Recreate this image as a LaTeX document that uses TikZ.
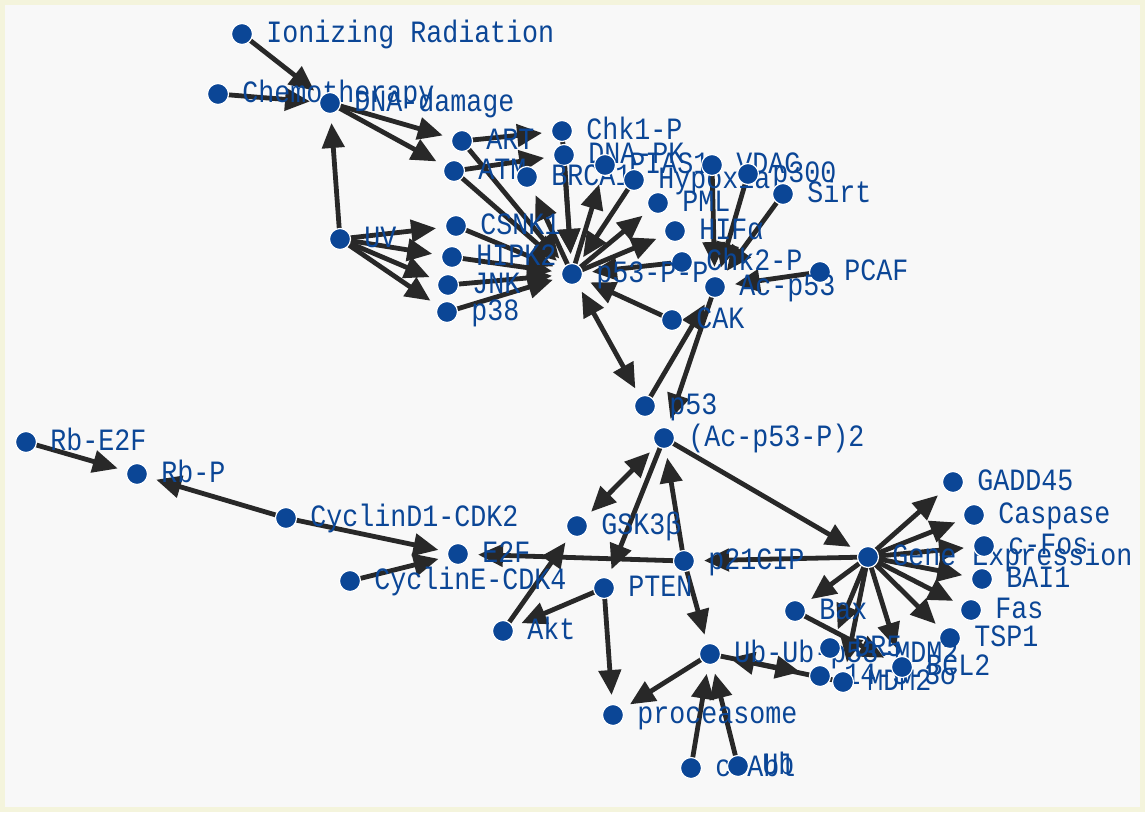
\documentclass[tikz,border=0pt]{standalone}
\usepackage{fontspec}
\newfontfamily\genefont{Liberation Mono}[FakeStretch=0.86]
\usetikzlibrary{arrows.meta}

\definecolor{dotblue}{HTML}{0B4696}
\definecolor{linkgray}{HTML}{282828}
\definecolor{pagegray}{HTML}{F8F8F8}
\definecolor{rimyellow}{HTML}{F4F4DC}

\begin{document}
\begin{tikzpicture}[x=1pt,y=-1pt,label distance=13pt,
    link/.style={draw=linkgray,line width=4.8pt,shorten >=20pt,-{Triangle[length=25pt,width=22pt]}},
    twoway/.style={link,shorten <=20pt,{Triangle[length=25pt,width=22pt]}-{Triangle[length=25pt,width=22pt]}},
    gene/.style={circle,fill=dotblue,draw=white,line width=1.2pt,minimum size=21pt,inner sep=0pt},
    genetext/.style={text=dotblue,font=\genefont\fontsize{31}{31}\selectfont,inner sep=0pt,text height=21pt,text depth=4pt},
    every label/.style={genetext}]

        % Background
        \fill[rimyellow] (0,0) rectangle (1145,812);
        \fill[pagegray] (5,5) rectangle (1140,807);
        \useasboundingbox (0,0) rectangle (1145,812);

        % Signals and kinases
        \coordinate (IR) at (242,34);
        \coordinate (Chemo) at (218,94);
        \coordinate (DNAd) at (330,103);
        \coordinate (UV) at (340,239);
        \coordinate (ART) at (462,141);
        \coordinate (ATM) at (454,171);
        \coordinate (Chk1P) at (562,131);
        \coordinate (DNAPK) at (564,155);
        \coordinate (BRCA1) at (527,177);
        \coordinate (PIAS1) at (605,165);
        \coordinate (Hypoxia) at (634,180);
        \coordinate (VDAC) at (712,165);
        \coordinate (p300) at (748,174);
        \coordinate (Sirt) at (783,194);
        \coordinate (PML) at (658,203);
        \coordinate (HIFa) at (675,231);
        \coordinate (CSNK1) at (456,226);
        \coordinate (HIPK2) at (452,257);
        \coordinate (JNK) at (448,285);
        \coordinate (p38) at (447,312);
        \coordinate (Chk2P) at (682,262);
        \coordinate (PCAF) at (820,272);
        \coordinate (CAK) at (672,320);

        % p53 forms
        \coordinate (p53PP) at (572,274);
        \coordinate (Acp53) at (715,287);
        \coordinate (p53) at (645,406);
        \coordinate (Acp53P2) at (664,438);

        % Cell cycle
        \coordinate (RbE2F) at (26,442);
        \coordinate (RbP) at (137,474);
        \coordinate (CycD1) at (286,518);
        \coordinate (E2F) at (458,554);
        \coordinate (CycE) at (350,581);
        \coordinate (GSK) at (577,526);
        \coordinate (p21) at (684,561);
        \coordinate (PTEN) at (604,588);
        \coordinate (Akt) at (503,631);

        % Target genes
        \coordinate (Gene) at (868,557);
        \coordinate (GADD) at (953,482);
        \coordinate (Casp) at (974,515);
        \coordinate (cFos) at (984,546);
        \coordinate (BAI) at (982,579);
        \coordinate (Fas) at (971,610);
        \coordinate (TSP) at (950,638);
        \coordinate (Bax) at (795,611);
        \coordinate (DR5) at (830,648);
        \coordinate (Sigma) at (820,676);
        \coordinate (MDM) at (843,682);
        \coordinate (BCL) at (902,667);

        % Degradation
        \coordinate (UbUb) at (710,654);
        \coordinate (Proc) at (613,715);
        \coordinate (cAbl) at (691,768);
        \coordinate (Ub) at (738,766);

        % Links into DNA damage
        \draw[link] (IR) -- (DNAd);
        \draw[link] (Chemo) -- (DNAd);
        \draw[link] (UV) -- (DNAd);
        \draw[link] (DNAd) -- (ART);
        \draw[link] (DNAd) -- (ATM);
        \draw[link] (UV) -- (CSNK1);
        \draw[link] (UV) -- (HIPK2);
        \draw[link] (UV) -- (JNK);
        \draw[link] (UV) -- (p38);
        \draw[link] (ART) -- (Chk1P);
        \draw[link] (ATM) -- (DNAPK);

        % Links into p53-P-P
        \draw[link] (ART) -- (p53PP);
        \draw[link] (ATM) -- (p53PP);
        \draw[link] (CSNK1) -- (p53PP);
        \draw[link] (HIPK2) -- (p53PP);
        \draw[link] (JNK) -- (p53PP);
        \draw[link] (p38) -- (p53PP);
        \draw[link] (Chk1P) -- (p53PP);
        \draw[link] (DNAPK) -- (p53PP);
        \draw[link] (Hypoxia) -- (p53PP);
        \draw[link] (Chk2P) -- (p53PP);
        \draw[link] (CAK) -- (p53PP);
        \draw[link] (p53PP) -- (BRCA1);
        \draw[link] (p53PP) -- (PIAS1);
        \draw[link] (p53PP) -- (PML);
        \draw[link] (p53PP) -- (HIFa);

        % Acetylation
        \draw[link] (VDAC) -- (Acp53);
        \draw[link] (p300) -- (Acp53);
        \draw[link] (Sirt) -- (Acp53);
        \draw[link] (PCAF) -- (Acp53);
        \draw[twoway] (p53PP) -- (p53);
        \draw[link] (p53) -- (Acp53);
        \draw[link] (Acp53) -- (Acp53P2);

        % Links out of (Ac-p53-P)2
        \draw[twoway] (Acp53P2) -- (GSK);
        \draw[link] (Acp53P2) -- (PTEN);
        \draw[link] (p21) -- (Acp53P2);
        \draw[link] (Acp53P2) -- (Gene);
        \draw[link] (Gene) -- (p21);
        \draw[link] (p21) -- (E2F);
        \draw[link] (p21) -- (UbUb);
        \draw[link] (Akt) -- (GSK);
        \draw[link] (PTEN) -- (Akt);
        \draw[link] (PTEN) -- (Proc);

        % Rb and cyclins
        \draw[link] (RbE2F) -- (RbP);
        \draw[link] (CycD1) -- (RbP);
        \draw[link] (CycD1) -- (E2F);
        \draw[link] (CycE) -- (E2F);

        % Ubiquitin
        \draw[link] (UbUb) -- (Proc);
        \draw[link] (cAbl) -- (UbUb);
        \draw[link] (Ub) -- (UbUb);
        \draw[link] (MDM) -- (UbUb);
        \draw[link] (UbUb) -- (Sigma);

        % Gene expression fan
        \draw[link] (Gene) -- (GADD);
        \draw[link] (Gene) -- (Casp);
        \draw[link] (Gene) -- (cFos);
        \draw[link] (Gene) -- (BAI);
        \draw[link] (Gene) -- (Fas);
        \draw[link] (Gene) -- (TSP);
        \draw[link] (Gene) -- (BCL);
        \draw[link] (Gene) -- (MDM);
        \draw[link] (Gene) -- (DR5);
        \draw[link] (Gene) -- (Bax);
        \draw[link] (Bax) -- (BCL);

        % Dots and names
        \node[gene,label=east:Ionizing Radiation] (IRdot) at (IR) {};
        \node[gene,label=east:Chemotherapy] (Chemodot) at (Chemo) {};
        \node[gene,label=east:DNA-damage] (DNAddot) at (DNAd) {};
        \node[gene,label=east:UV] (UVdot) at (UV) {};
        \node[gene,label=east:ART] (ARTdot) at (ART) {};
        \node[gene,label=east:ATM] (ATMdot) at (ATM) {};
        \node[gene,label=east:Chk1-P] (Chk1Pdot) at (Chk1P) {};
        \node[gene,label=east:DNA-PK] (DNAPKdot) at (DNAPK) {};
        \node[gene,label=east:BRCA1] (BRCA1dot) at (BRCA1) {};
        \node[gene,label=east:PIAS1] (PIAS1dot) at (PIAS1) {};
        \node[gene,label=east:Hypoxia] (Hypoxiadot) at (Hypoxia) {};
        \node[gene,label=east:VDAC] (VDACdot) at (VDAC) {};
        \node[gene,label=east:p300] (p300dot) at (p300) {};
        \node[gene,label=east:Sirt] (Sirtdot) at (Sirt) {};
        \node[gene,label=east:PML] (PMLdot) at (PML) {};
        \node[gene,label=east:HIFα] (HIFadot) at (HIFa) {};
        \node[gene,label=east:CSNK1] (CSNK1dot) at (CSNK1) {};
        \node[gene,label=east:HIPK2] (HIPK2dot) at (HIPK2) {};
        \node[gene,label=east:JNK] (JNKdot) at (JNK) {};
        \node[gene,label=east:p38] (p38dot) at (p38) {};
        \node[gene,label=east:Chk2-P] (Chk2Pdot) at (Chk2P) {};
        \node[gene,label=east:PCAF] (PCAFdot) at (PCAF) {};
        \node[gene,label=east:CAK] (CAKdot) at (CAK) {};
        \node[gene,label=east:p53-P-P] (p53PPdot) at (p53PP) {};
        \node[gene,label=east:Ac-p53] (Acp53dot) at (Acp53) {};
        \node[gene,label=east:p53] (p53dot) at (p53) {};
        \node[gene,label=east:(Ac-p53-P)2] (Acp53P2dot) at (Acp53P2) {};
        \node[gene,label=east:Rb-E2F] (RbE2Fdot) at (RbE2F) {};
        \node[gene,label=east:Rb-P] (RbPdot) at (RbP) {};
        \node[gene,label=east:CyclinD1-CDK2] (CycD1dot) at (CycD1) {};
        \node[gene,label=east:E2F] (E2Fdot) at (E2F) {};
        \node[gene,label=east:CyclinE-CDK4] (CycEdot) at (CycE) {};
        \node[gene,label=east:GSK3β] (GSKdot) at (GSK) {};
        \node[gene,label=east:p21CIP] (p21dot) at (p21) {};
        \node[gene,label=east:PTEN] (PTENdot) at (PTEN) {};
        \node[gene,label=east:Akt] (Aktdot) at (Akt) {};
        \node[gene,label=east:Gene Expression] (Genedot) at (Gene) {};
        \node[gene,label=east:GADD45] (GADDdot) at (GADD) {};
        \node[gene,label=east:Caspase] (Caspdot) at (Casp) {};
        \node[gene,label=east:c-Fos] (cFosdot) at (cFos) {};
        \node[gene,label=east:BAI1] (BAIdot) at (BAI) {};
        \node[gene,label=east:Fas] (Fasdot) at (Fas) {};
        \node[gene,label=east:TSP1] (TSPdot) at (TSP) {};
        \node[gene,label=east:Bax] (Baxdot) at (Bax) {};
        \node[gene,label=east:Ub-Ub-p53-MDM2] (UbUbdot) at (UbUb) {};
        \node[gene,label=east:DR5] (DR5dot) at (DR5) {};
        \node[gene,label=east:14-3-3σ] (Sigmadot) at (Sigma) {};
        \node[gene,label=east:MDM2] (MDMdot) at (MDM) {};
        \node[gene,label=east:BCL2] (BCLdot) at (BCL) {};
        \node[gene,label=east:proceasome] (Procdot) at (Proc) {};
        \node[gene,label=east:c-Abl] (cAbldot) at (cAbl) {};
        \node[gene,label=east:Ub] (Ubdot) at (Ub) {};
    \end{tikzpicture}
\end{document}
